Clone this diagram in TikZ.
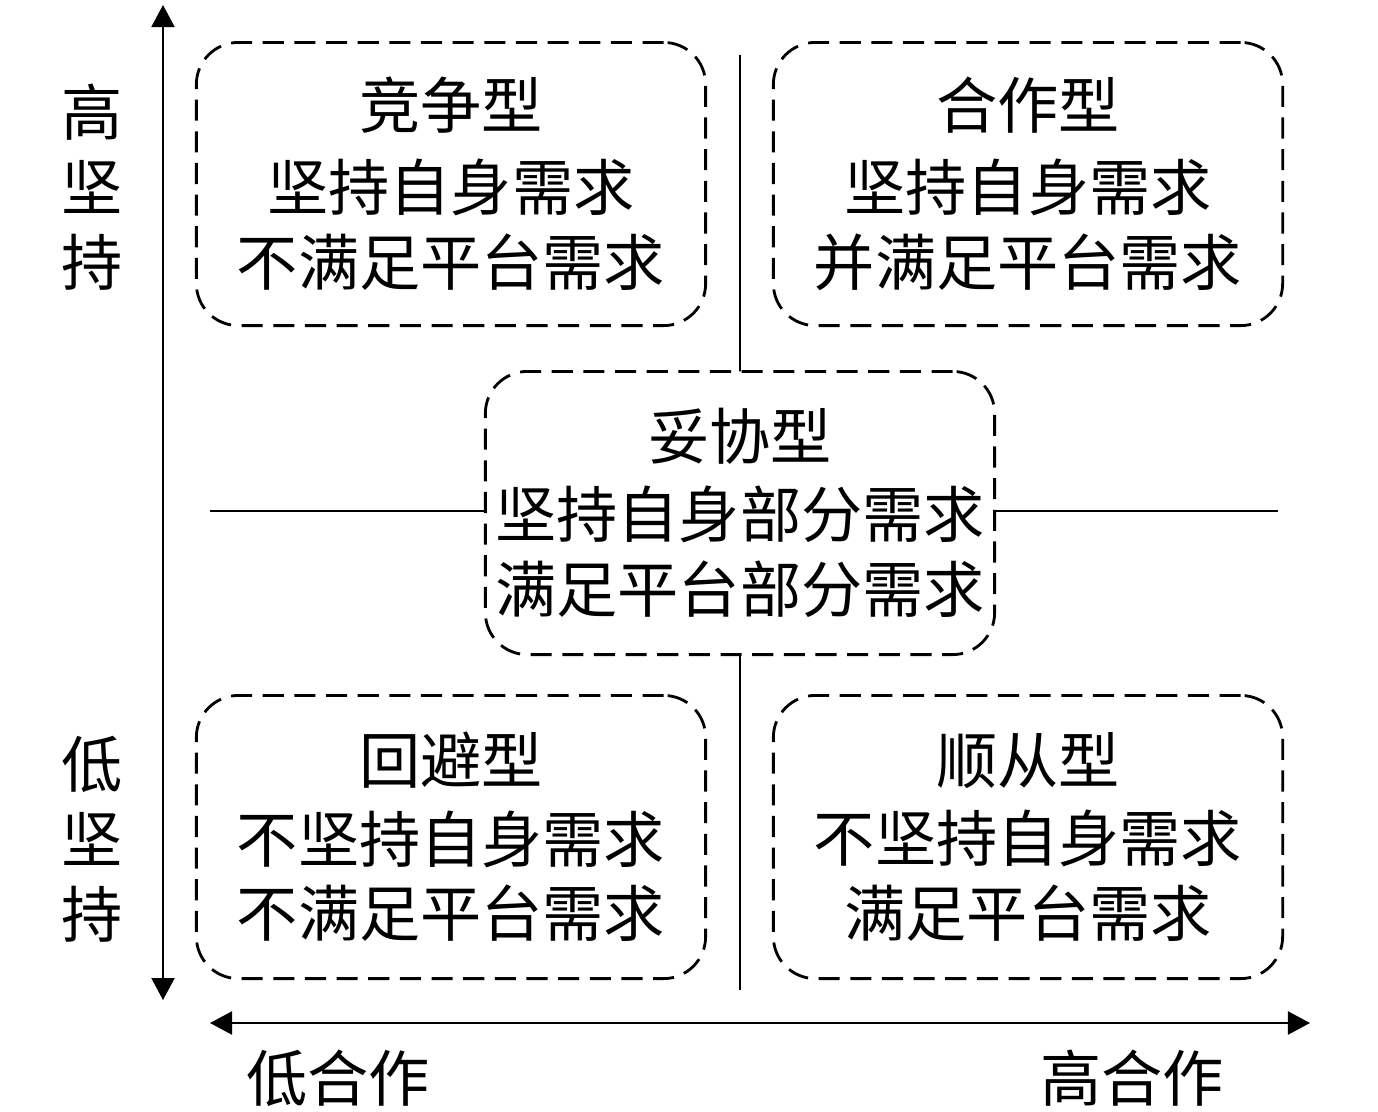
\documentclass[tikz,border=0pt]{standalone}
\usepackage{fontspec}
\setmainfont{Noto Sans CJK SC}
\usepackage{tikz}
\usetikzlibrary{arrows.meta}

\tikzset{
  polje/.style={draw, dashed, dash pattern=on 6pt off 3pt, line width=0.8pt, rounded corners=0.42cm,
    fill=white, minimum width=5.09cm, minimum height=2.83cm, inner sep=0pt, align=center},
  napis/.style={font=\fontsize{17.4}{21.3}\selectfont, align=center, inner sep=0pt},
  os/.style={line width=0.6pt, {Triangle[length=0.22cm,width=0.23cm]}-{Triangle[length=0.22cm,width=0.23cm]}}
}

\begin{document}
\begin{tikzpicture}[x=0.01cm,y=-0.01cm]
\useasboundingbox (0,0) rectangle (1378,1111);
\coordinate (v_gor) at (740,55);
\coordinate (v_dol) at (740,990);
\coordinate (h_lev) at (210,511);
\coordinate (h_des) at (1278,511);
\draw[line width=0.5pt] (v_gor) -- (v_dol);
\draw[line width=0.5pt] (h_lev) -- (h_des);
\coordinate (y_gor) at (163,5);
\coordinate (y_dol) at (163,1000);
\coordinate (x_lev) at (210,1023);
\coordinate (x_des) at (1310,1023);
\draw[os] (y_dol) -- (y_gor);
\draw[os] (x_lev) -- (x_des);
\foreach \i/\x/\y/\t in {
  0/451/184/{竞争型\\[2pt]坚持自身需求\\不满足平台需求},
  1/1028/184/{合作型\\[2pt]坚持自身需求\\并满足平台需求},
  2/740/513/{妥协型\\[1pt]坚持自身部分需求\\满足平台部分需求},
  3/451/837/{回避型\\[1pt]不坚持自身需求\\不满足平台需求},
  4/1028/837/{顺从型\\[1pt]不坚持自身需求\\满足平台需求}} {
  \node[polje, napis, draw, fill=white] (p_\i) at (\x,\y) {\t};
}
\node[napis] (k_vis) at (92,187) {高\\坚\\持};
\node[napis] (k_niz) at (92,839) {低\\坚\\持};
\node[napis] (s_niz) at (338,1078) {低合作};
\node[napis] (s_vis) at (1132,1078) {高合作};
\end{tikzpicture}
\end{document}
